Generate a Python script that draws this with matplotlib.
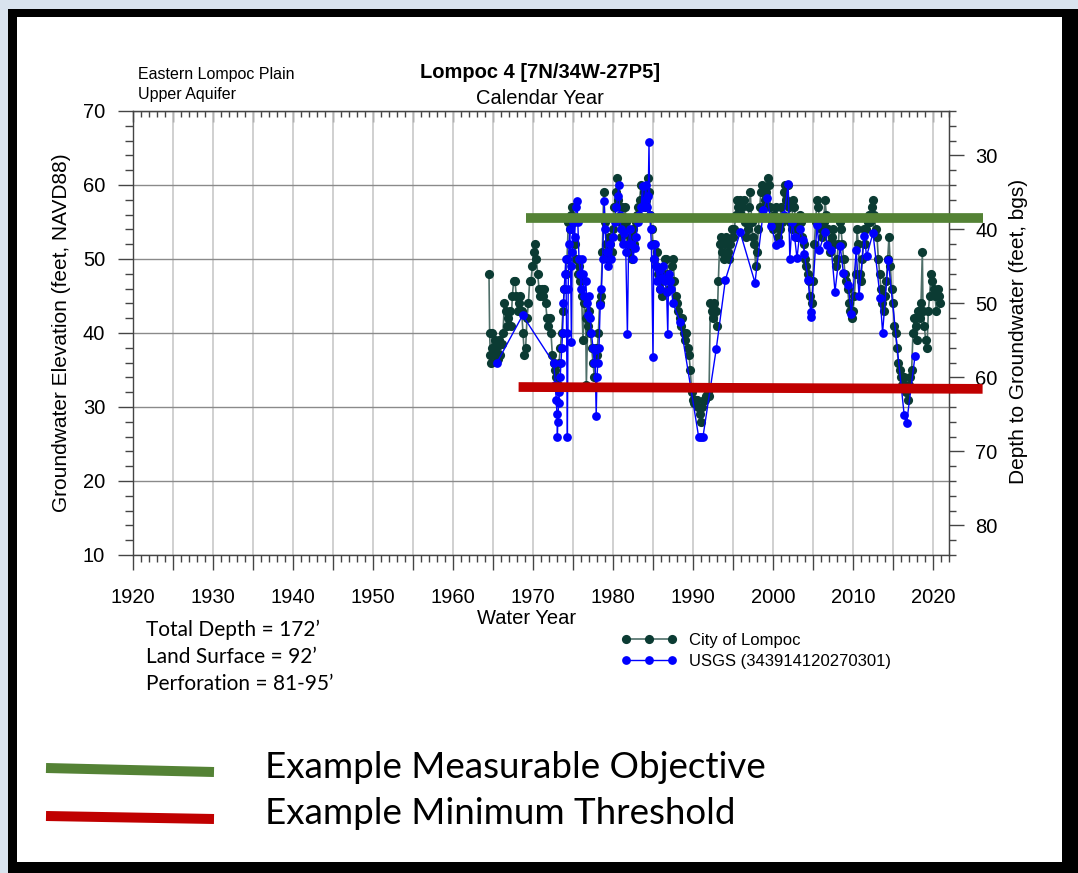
import matplotlib
matplotlib.use("Agg")
import matplotlib.pyplot as plt
from matplotlib.patches import Rectangle
from matplotlib.lines import Line2D
from matplotlib.ticker import MultipleLocator, FuncFormatter

plt.rcParams['font.family'] = ['Liberation Sans', 'DejaVu Sans']

# City of Lompoc water levels (water year, elevation ft NAVD88)
city_year = [
    1964.50, 1964.58, 1964.67, 1964.75, 1964.83, 1964.92, 1965.08, 1965.25, 1965.42, 1965.58,
    1965.75, 1965.92, 1966.08, 1966.25, 1966.42, 1966.58, 1966.75, 1966.92, 1967.08, 1967.25,
    1967.42, 1967.58, 1967.75, 1967.92, 1968.08, 1968.25, 1968.42, 1968.58, 1968.75, 1968.92,
    1969.08, 1969.25, 1969.42, 1969.58, 1969.75, 1969.92, 1970.08, 1970.25, 1970.42, 1970.58,
    1970.75, 1970.92, 1971.08, 1971.25, 1971.42, 1971.58, 1971.75, 1971.92, 1972.08, 1972.25,
    1972.42, 1972.58, 1972.75, 1972.92, 1973.08, 1973.25, 1973.42, 1973.58, 1973.75, 1973.92,
    1974.08, 1974.25, 1974.42, 1974.58, 1974.75, 1974.92, 1975.08, 1975.25, 1975.42, 1975.58,
    1975.75, 1975.92, 1976.08, 1976.25, 1976.42, 1976.58, 1976.67, 1976.83, 1977.00, 1977.17,
    1977.33, 1977.50, 1977.67, 1977.83, 1978.00, 1978.17, 1978.33, 1978.50, 1978.67, 1978.83,
    1979.00, 1979.17, 1979.33, 1979.50, 1979.67, 1979.83, 1980.00, 1980.17, 1980.33, 1980.50,
    1980.67, 1980.83, 1981.00, 1981.17, 1981.33, 1981.50, 1981.67, 1981.83, 1982.00, 1982.17,
    1982.33, 1982.50, 1982.67, 1982.83, 1983.00, 1983.17, 1983.33, 1983.50, 1983.67, 1983.83,
    1984.00, 1984.17, 1984.33, 1984.50, 1984.67, 1984.83, 1985.00, 1985.17, 1985.33, 1985.50,
    1985.67, 1985.83, 1986.00, 1986.17, 1986.33, 1986.50, 1986.67, 1986.83, 1987.00, 1987.17,
    1987.33, 1987.50, 1987.67, 1987.83, 1988.00, 1988.17, 1988.33, 1988.50, 1988.67, 1988.83,
    1989.00, 1989.17, 1989.33, 1989.50, 1989.67, 1989.83, 1990.00, 1990.17, 1990.33, 1990.50,
    1990.67, 1990.83, 1991.00, 1991.17, 1991.33, 1991.50, 1991.67, 1991.83, 1992.00, 1992.17,
    1992.33, 1992.50, 1992.67, 1992.83, 1993.00, 1993.17, 1993.33, 1993.50, 1993.67, 1993.83,
    1994.00, 1994.17, 1994.33, 1994.50, 1994.67, 1994.83, 1995.00, 1995.17, 1995.33, 1995.50,
    1995.67, 1995.83, 1996.00, 1996.17, 1996.33, 1996.50, 1996.67, 1996.83, 1997.00, 1997.17,
    1997.33, 1997.50, 1997.67, 1997.83, 1998.00, 1998.17, 1998.33, 1998.50, 1998.67, 1998.83,
    1999.00, 1999.17, 1999.33, 1999.50, 1999.67, 1999.83, 2000.00, 2000.17, 2000.33, 2000.50,
    2000.67, 2000.83, 2001.00, 2001.17, 2001.33, 2001.50, 2001.67, 2001.83, 2002.00, 2002.17,
    2002.33, 2002.50, 2002.67, 2002.83, 2003.00, 2003.17, 2003.33, 2003.50, 2003.67, 2003.83,
    2004.00, 2004.17, 2004.33, 2004.50, 2004.67, 2004.83, 2005.00, 2005.17, 2005.33, 2005.50,
    2005.67, 2005.83, 2006.00, 2006.17, 2006.33, 2006.50, 2006.67, 2006.83, 2007.00, 2007.17,
    2007.33, 2007.50, 2007.67, 2007.83, 2008.00, 2008.17, 2008.33, 2008.50, 2008.67, 2008.83,
    2009.00, 2009.17, 2009.33, 2009.50, 2009.67, 2009.83, 2010.00, 2010.17, 2010.33, 2010.50,
    2010.67, 2010.83, 2011.00, 2011.17, 2011.33, 2011.50, 2011.67, 2011.83, 2012.00, 2012.17,
    2012.33, 2012.50, 2012.67, 2012.83, 2013.00, 2013.17, 2013.33, 2013.50, 2013.67, 2013.83,
    2014.00, 2014.17, 2014.33, 2014.50, 2014.67, 2014.83, 2015.00, 2015.17, 2015.33, 2015.50,
    2015.67, 2015.83, 2016.00, 2016.17, 2016.33, 2016.50, 2016.67, 2016.83, 2017.00, 2017.17,
    2017.33, 2017.50, 2017.67, 2017.83, 2018.00, 2018.17, 2018.33, 2018.50, 2018.67, 2018.75,
    2018.92, 2019.08, 2019.25, 2019.42, 2019.58, 2019.75, 2019.92, 2020.08, 2020.25, 2020.42,
    2020.58, 2020.75, 2020.92,
]
city_elev = [
    48.0, 40.0, 37.0, 36.0, 38.0, 40.0, 37.0, 39.0, 38.0, 36.5,
    39.0, 37.0, 38.5, 40.0, 44.0, 43.0, 41.0, 42.0, 43.0, 41.0,
    45.0, 47.0, 47.0, 45.0, 43.0, 44.0, 45.0, 43.0, 40.0, 37.0,
    38.0, 42.0, 44.0, 47.0, 47.0, 49.0, 51.0, 52.0, 50.0, 48.0,
    46.0, 45.0, 46.0, 45.0, 46.0, 44.0, 42.0, 41.0, 42.0, 40.0,
    37.0, 36.0, 35.0, 34.0, 33.0, 36.0, 38.0, 40.0, 43.0, 46.0,
    48.0, 50.0, 55.0, 54.0, 56.0, 57.0, 55.0, 52.0, 50.0, 48.0,
    49.0, 47.0, 45.0, 39.0, 44.0, 42.0, 33.0, 41.0, 43.0, 40.0,
    38.0, 36.0, 34.0, 38.0, 37.0, 40.0, 44.0, 45.0, 51.0, 59.0,
    55.0, 52.0, 50.0, 53.0, 52.0, 51.0, 54.0, 57.0, 59.0, 61.0,
    58.0, 55.0, 53.0, 57.0, 54.0, 57.0, 55.0, 52.0, 51.0, 53.0,
    50.0, 54.0, 52.0, 55.0, 56.0, 57.0, 58.0, 60.0, 58.0, 59.0,
    57.0, 58.0, 61.0, 59.0, 56.0, 54.0, 52.0, 50.0, 49.0, 51.0,
    48.0, 46.0, 47.0, 45.0, 48.0, 50.0, 50.0, 48.0, 46.0, 47.0,
    49.0, 50.0, 47.0, 45.0, 44.0, 43.0, 42.0, 41.0, 42.0, 40.0,
    39.0, 40.0, 38.0, 37.0, 35.0, 32.0, 31.0, 30.5, 31.0, 31.0,
    30.0, 29.0, 28.0, 30.0, 31.0, 31.0, 31.5, 32.0, 31.5, 44.0,
    43.0, 42.0, 44.0, 43.0, 41.0, 47.0, 52.0, 53.0, 51.0, 50.0,
    52.0, 53.0, 51.0, 50.0, 52.0, 54.0, 53.0, 54.0, 56.0, 58.0,
    57.0, 58.0, 56.0, 57.0, 58.0, 55.0, 53.0, 54.0, 57.0, 59.0,
    55.0, 53.0, 52.0, 49.0, 51.0, 54.0, 57.0, 59.0, 60.0, 57.0,
    58.0, 59.0, 61.0, 60.0, 57.0, 55.0, 54.0, 56.0, 57.0, 55.0,
    53.0, 54.0, 57.0, 55.0, 59.0, 60.0, 58.0, 60.0, 57.0, 55.0,
    54.0, 58.0, 57.0, 55.0, 53.0, 54.0, 56.0, 55.0, 53.0, 52.0,
    50.0, 49.0, 48.0, 47.0, 45.0, 44.0, 47.0, 52.0, 55.0, 58.0,
    57.0, 55.0, 54.0, 53.0, 55.0, 58.0, 56.0, 54.0, 52.0, 51.0,
    53.0, 54.0, 52.0, 49.0, 50.0, 52.0, 55.0, 54.0, 52.0, 50.0,
    48.0, 47.0, 46.0, 44.0, 43.0, 42.0, 43.0, 45.0, 48.0, 54.0,
    52.0, 48.0, 47.0, 50.0, 54.0, 52.0, 54.0, 55.0, 56.0, 55.0,
    57.0, 58.0, 56.0, 54.0, 53.0, 50.0, 48.0, 46.0, 44.0, 43.0,
    45.0, 47.0, 50.0, 53.0, 49.0, 46.0, 44.0, 41.0, 40.0, 38.0,
    36.0, 35.0, 34.0, 33.0, 34.0, 33.0, 32.0, 31.0, 33.0, 34.0,
    35.0, 40.0, 42.0, 41.0, 39.0, 43.0, 42.0, 44.0, 51.0, 43.0,
    41.0, 39.0, 38.0, 43.0, 45.0, 48.0, 47.0, 46.0, 45.0, 43.0,
    46.0, 45.0, 44.0,
]

# USGS 343914120270301 measurements
usgs_year = [
    1965.50, 1968.70, 1972.60, 1972.80, 1972.90, 1973.00, 1973.05, 1973.10, 1973.20, 1973.30,
    1973.40, 1973.50, 1973.60, 1973.70, 1973.80, 1973.90, 1974.00, 1974.10, 1974.20, 1974.30,
    1974.40, 1974.50, 1974.60, 1974.70, 1974.80, 1974.90, 1975.00, 1975.20, 1975.40, 1975.50,
    1975.60, 1975.75, 1975.90, 1976.00, 1976.10, 1976.25, 1976.40, 1976.60, 1976.75, 1976.90,
    1977.00, 1977.15, 1977.30, 1977.50, 1977.65, 1977.75, 1977.90, 1978.00, 1978.10, 1978.25,
    1978.40, 1978.55, 1978.70, 1978.90, 1979.00, 1979.20, 1979.40, 1979.60, 1979.80, 1980.00,
    1980.20, 1980.40, 1980.60, 1980.70, 1980.85, 1981.00, 1981.20, 1981.40, 1981.60, 1981.80,
    1981.95, 1982.10, 1982.30, 1982.50, 1982.70, 1982.90, 1983.10, 1983.30, 1983.50, 1983.70,
    1983.80, 1983.95, 1984.10, 1984.25, 1984.40, 1984.50, 1984.60, 1984.70, 1984.80, 1985.00,
    1985.10, 1985.25, 1985.40, 1985.55, 1985.70, 1985.90, 1986.10, 1986.30, 1986.50, 1986.70,
    1986.85, 1986.95, 1987.10, 1987.30, 1987.50, 1988.40, 1990.70, 1990.95, 1991.25, 1992.90,
    1994.05, 1995.90, 1997.75, 1998.80, 1999.30, 1999.80, 2000.40, 2000.90, 2001.40, 2001.90,
    2002.10, 2002.40, 2002.70, 2003.00, 2003.40, 2003.80, 2003.90, 2004.40, 2004.70, 2004.75,
    2005.50, 2005.80, 2006.50, 2006.80, 2007.30, 2007.75, 2008.40, 2008.80, 2009.40, 2009.80,
    2010.40, 2010.75, 2011.40, 2011.70, 2012.50, 2013.40, 2013.70, 2014.40, 2016.40, 2016.70,
    2017.75,
]
usgs_elev = [
    36.0, 42.4, 35.9, 33.0, 31.0, 29.0, 26.0, 28.0, 30.5, 32.0,
    34.0, 36.0, 38.0, 40.0, 44.0, 46.0, 48.0, 50.0, 40.0, 26.0,
    46.0, 52.0, 54.0, 49.0, 38.8, 51.0, 55.0, 53.0, 57.0, 57.8,
    55.0, 50.0, 48.0, 46.0, 50.0, 48.0, 45.0, 47.0, 44.0, 42.5,
    45.0, 42.0, 40.0, 38.0, 36.0, 37.7, 28.8, 34.0, 36.0, 38.0,
    43.8, 46.0, 50.0, 57.8, 54.0, 51.0, 49.0, 52.0, 50.0, 53.0,
    55.0, 57.0, 58.5, 60.0, 56.0, 54.0, 52.0, 53.5, 51.0, 39.8,
    52.0, 54.0, 52.0, 50.0, 51.5, 53.0, 55.0, 56.0, 57.0, 59.8,
    57.0, 58.0, 60.0, 57.0, 58.5, 65.8, 56.0, 54.0, 51.9, 36.8,
    50.0, 52.0, 49.0, 47.0, 48.5, 46.0, 47.5, 49.0, 47.0, 45.5,
    39.8, 48.0, 47.0, 46.0, 44.0, 41.5, 26.0, 26.0, 26.0, 37.8,
    47.2, 53.6, 46.8, 56.6, 58.3, 54.4, 51.9, 52.1, 56.0, 60.1,
    50.0, 55.0, 53.0, 50.1, 54.1, 52.6, 50.7, 47.2, 42.9, 42.2,
    54.6, 51.2, 53.7, 51.9, 51.2, 45.6, 51.7, 48.1, 46.5, 42.6,
    51.2, 45.0, 53.1, 50.4, 53.5, 44.7, 40.0, 49.8, 28.9, 27.8,
    36.9,
]

# sustainability criteria drawn across the hydrograph
objective_span = [1969.1, 2026.2]
objective_elev = [55.55, 55.55]
threshold_span = [1968.2, 2026.2]
threshold_elev = [32.7, 32.45]

land_surface_offset = 94  # depth (ft bgs) = offset - elevation

W, H = 1078, 873
fig = plt.figure(figsize=(W / 100, H / 100), dpi=100)
fig.patch.set_facecolor('black')


def fx(px):
    return px / W


def fy(py):
    return 1 - py / H


# slide frame
fig.add_artist(Rectangle((0, fy(9)), 1, 9 / H, transform=fig.transFigure,
                         facecolor='#d9e3ee', edgecolor='none', zorder=0))
fig.add_artist(Rectangle((0, 0), 8 / W, 1, transform=fig.transFigure,
                         facecolor='#d9e3ee', edgecolor='none', zorder=0))
fig.add_artist(Rectangle((fx(17), fy(862)), (1062 - 17) / W, (862 - 17) / H,
                         transform=fig.transFigure, facecolor='white',
                         edgecolor='none', zorder=0))

ax = fig.add_axes([fx(133), fy(555), 816 / W, 444 / H])
ax.set_facecolor('none')

city_line, = ax.plot(city_year, city_elev, color='#4f6f69', lw=1.2, marker='o',
                     markersize=6.6, markerfacecolor='#0b3b33', markeredgewidth=0,
                     zorder=3, label='City of Lompoc')
usgs_line, = ax.plot(usgs_year, usgs_elev, color='#0000ff', lw=1.0, marker='o',
                     markersize=6.3, markerfacecolor='#0000ff', markeredgewidth=0,
                     zorder=4, label='USGS (343914120270301)')

ax.plot(objective_span, objective_elev, color='#548235', lw=7, clip_on=False,
        solid_capstyle='butt', zorder=6)
ax.plot(threshold_span, threshold_elev, color='#c00000', lw=7, clip_on=False,
        solid_capstyle='butt', zorder=6)

ax.set_xlim(1920, 2022)
ax.set_ylim(10, 70)

ax.xaxis.set_major_locator(MultipleLocator(5))
ax.xaxis.set_minor_locator(MultipleLocator(1))
ax.xaxis.set_major_formatter(FuncFormatter(lambda v, p: f"{v:.0f}" if v % 10 == 0 else ""))
ax.yaxis.set_major_locator(MultipleLocator(10))
ax.yaxis.set_minor_locator(MultipleLocator(2))

ax.tick_params(axis='x', which='major', direction='out', length=11, width=1,
               labelsize=14.5, pad=13, color='#444444')
ax.tick_params(axis='x', which='minor', direction='out', length=5, width=1, color='#444444')
ax.tick_params(axis='y', which='major', direction='out', length=11, width=1,
               labelsize=14.5, pad=9, color='#444444')
ax.tick_params(axis='y', which='minor', direction='out', length=5.5, width=1, color='#444444')

ax.xaxis.grid(True, which='major', color='#c8c8c8', lw=1.2)
ax.yaxis.grid(True, which='major', color='#8a8a8a', lw=1.0)
ax.set_axisbelow(True)
for s in ax.spines.values():
    s.set_color('#444444')
    s.set_linewidth(1.0)

# calendar-year ticks along the top
top = ax.secondary_xaxis('top')
top.xaxis.set_major_locator(MultipleLocator(5))
top.xaxis.set_minor_locator(MultipleLocator(1))
top.tick_params(which='major', direction='in', length=8, width=1, labeltop=False, color='#444444')
top.tick_params(which='minor', direction='in', length=4, width=1, color='#444444')
top.spines['top'].set_color('#444444')

# depth below ground surface on the right
right = ax.secondary_yaxis('right', functions=(lambda e: land_surface_offset - e,
                                                lambda d: land_surface_offset - d))
right.yaxis.set_major_locator(MultipleLocator(10))
right.yaxis.set_minor_locator(MultipleLocator(2))
right.tick_params(which='major', direction='out', length=11, width=1,
                  labelsize=14.5, pad=8, color='#444444')
right.tick_params(which='minor', direction='out', length=5, width=1, color='#444444')
right.spines['right'].set_color('#444444')

fig.text(fx(62), fy(333), 'Groundwater Elevation (feet, NAVD88)', rotation=90,
         ha='center', va='center', fontsize=15)
fig.text(fx(1019), fy(331), 'Depth to Groundwater (feet, bgs)', rotation=90,
         ha='center', va='center', fontsize=15)
fig.text(fx(527), fy(619), 'Water Year', ha='center', va='center', fontsize=14.5)
fig.text(fx(540), fy(98), 'Calendar Year', ha='center', va='center', fontsize=14.5)
fig.text(fx(540), fy(73), 'Lompoc 4 [7N/34W-27P5]', ha='center', va='center',
         fontsize=14.5, fontweight='bold')
fig.text(fx(138), fy(75), 'Eastern Lompoc Plain', ha='left', va='center', fontsize=11.5)
fig.text(fx(138), fy(94), 'Upper Aquifer', ha='left', va='center', fontsize=11.5)

well_info = ['Total Depth = 172\u2019', 'Land Surface = 92\u2019', 'Perforation = 81-95\u2019']
for i, line in enumerate(well_info):
    fig.text(fx(146), fy(630 + 27 * i), line, ha='left', va='center',
             fontsize=15, family=['Lato', 'DejaVu Sans'])

ax.legend(handles=[city_line, usgs_line], loc='upper left',
          bbox_to_anchor=(fx(614), fy(626)), bbox_transform=fig.transFigure,
          frameon=False, numpoints=3, handlelength=3.4, handletextpad=0.7,
          fontsize=12, labelspacing=0.4, borderaxespad=0)

# key for the criteria lines
fig.add_artist(Line2D([fx(46), fx(214)], [fy(768), fy(772)], transform=fig.transFigure,
                      color='#548235', lw=7.2, solid_capstyle='butt'))
fig.add_artist(Line2D([fx(46), fx(214)], [fy(816), fy(819)], transform=fig.transFigure,
                      color='#c00000', lw=7.2, solid_capstyle='butt'))
fig.text(fx(265), fy(767), 'Example Measurable Objective', ha='left', va='center',
         fontsize=26.5, family=['Lato', 'DejaVu Sans'])
fig.text(fx(265), fy(813), 'Example Minimum Threshold', ha='left', va='center',
         fontsize=26.5, family=['Lato', 'DejaVu Sans'])

fig.savefig('out.png', dpi=100, facecolor=fig.get_facecolor())
